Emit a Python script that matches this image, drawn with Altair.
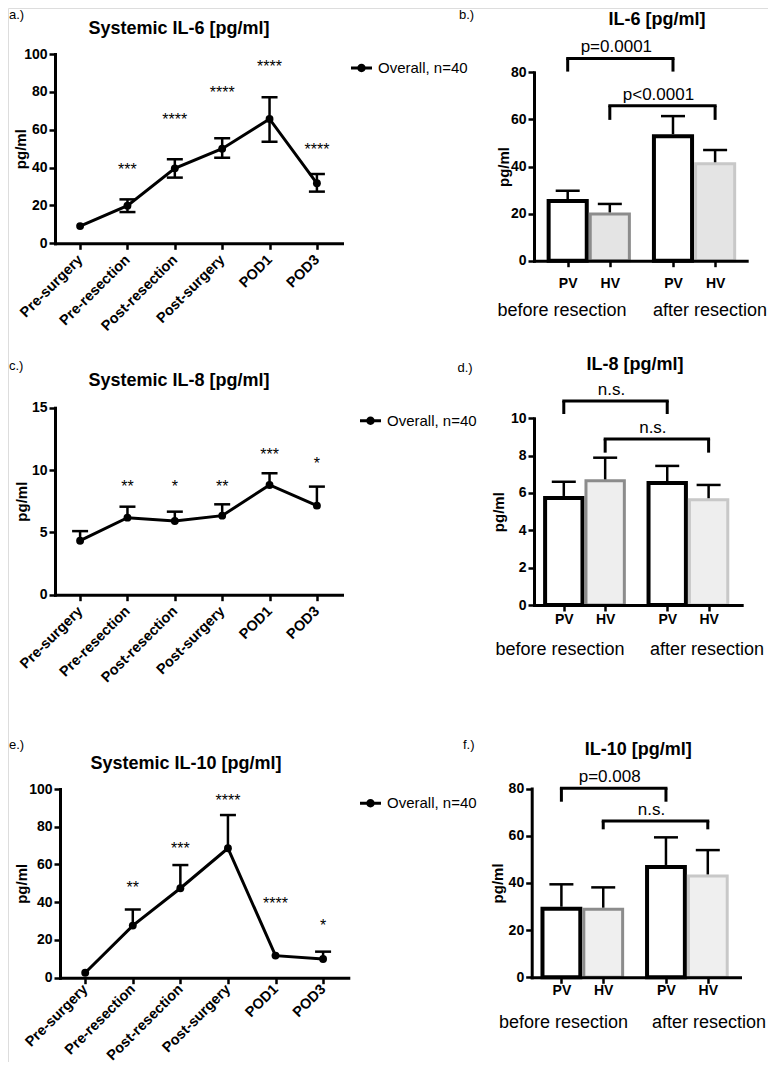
import altair as alt
import pandas as pd

# ---------------------------------------------------------------- data
timepoints = ["Pre-surgery", "Pre-resection", "Post-resection", "Post-surgery", "POD1", "POD3"]
series_name = "Overall, n=40"

il6_mean = [9.1, 19.9, 39.6, 50.0, 65.7, 31.7]
il6_upper = [None, 23.2, 44.4, 55.5, 77.1, 36.6]
il6_lower = [None, 16.5, 34.7, 45.2, 53.7, 27.3]
il6_stars = ["", "***", "****", "****", "****", "****"]
il6_star_level = [None, 41.0, 67.2, 81.4, 95.4, 51.6]

il8_mean = [4.33, 6.18, 5.91, 6.34, 8.80, 7.14]
il8_upper = [5.10, 7.06, 6.66, 7.25, 9.74, 8.67]
il8_lower = [None, None, None, None, None, None]
il8_stars = ["", "**", "*", "**", "***", "*"]
il8_star_level = [None, 9.0, 9.0, 9.0, 11.5, 10.8]

il10_mean = [2.65, 27.6, 47.4, 68.6, 11.7, 9.9]
il10_upper = [None, 36.2, 59.7, 86.2, None, 13.8]
il10_lower = [None, None, None, None, None, None]
il10_stars = ["", "**", "***", "****", "****", "*"]
il10_star_level = [None, 49.7, 70.3, 95.6, 41.2, 29.4]

vessels = ["PV", "HV", "PV", "HV"]
phases = ["before resection", "before resection", "after resection", "after resection"]
il6_bar_mean = [26.2, 20.5, 53.7, 41.8]
il6_bar_upper = [29.7, 24.1, 61.4, 47.0]
il8_bar_mean = [5.84, 6.73, 6.64, 5.72]
il8_bar_upper = [6.60, 7.89, 7.45, 6.43]
il10_bar_mean = [29.9, 29.5, 47.6, 43.6]
il10_bar_upper = [39.4, 38.1, 59.3, 53.9]

# (from bar, to bar, bracket level, foot level, label)
il6_brackets = [(0, 2, 85.9, 80.3, "p=0.0001"), (1, 3, 65.8, 59.8, "p<0.0001")]
il8_brackets = [(0, 2, 10.93, 10.23, "n.s."), (1, 3, 8.89, 8.16, "n.s.")]
il10_brackets = [(0, 2, 80.1, 74.4, "p=0.008"), (1, 3, 66.2, 62.7, "n.s.")]

# ---------------------------------------------------------------- layout / style
M = 8
W, H = 760, 1054
FONT = "Liberation Sans"
BLACK = "#000000"


def px(v):
    return v - M


AX = dict(domainColor=BLACK, domainWidth=3, domainCap="square", tickColor=BLACK, tickWidth=2.5,
          tickSize=6, labelFont=FONT, labelFontWeight="bold", labelColor=BLACK, grid=False,
          zindex=1, titleFont=FONT, titleFontWeight="bold", titleColor=BLACK, titleFontSize=15,
          labelFlush=False, labelOverlap=False)

LEGEND_PATH = ("M-1,-0.14L1,-0.14L1,0.14L-1,0.14Z "
               "M0.4,0A0.4,0.4 0 1 1 -0.4,0A0.4,0.4 0 1 1 0.4,0Z")


def num(lst):
    return pd.to_numeric(pd.Series(lst, dtype="object"), errors="coerce")


def line_panel(mean, upper, lower, stars, star_level, ydomain, yvalues, xr, yr, title_x, legend_c, label_pad):
    xs = alt.Scale(type="point", domain=timepoints, range=[px(xr[0]), px(xr[1])], padding=0.53)
    ys = alt.Scale(domain=ydomain, range=[px(yr[0]), px(yr[1])], nice=False, zero=False)
    xaxis = alt.Axis(orient="bottom", offset=-(H - px(yr[0])), labelAngle=-45, labelAlign="right",
                     labelBaseline="middle", labelFontSize=14.5, labelPadding=label_pad, title=None, **AX)
    yaxis = alt.Axis(orient="left", offset=-px(xr[0]), values=yvalues, labelFontSize=14,
                     labelPadding=2, title="pg/ml", titleX=title_x - xr[0], titleBaseline="middle", **AX)

    df = pd.DataFrame({"timepoint": timepoints, "mean": mean, "series": series_name})
    df["upper"] = num(upper)
    df["lower"] = num(lower)
    df["stars"] = stars
    df["star_level"] = num(star_level)

    def X(axis=None):
        return alt.X("timepoint:N", scale=xs, axis=axis, sort=timepoints)

    def Y(field, axis=None):
        return alt.Y(field + ":Q", scale=ys, axis=axis)

    err = df[df["upper"].notna()].copy()
    err["lo"] = err["lower"].fillna(err["mean"])
    lows = df[df["lower"].notna()]
    st = df[df["stars"] != ""]

    layers = [
        alt.Chart(err).mark_rule(color=BLACK, strokeWidth=2.5).encode(x=X(), y=Y("lo"), y2="upper:Q"),
        alt.Chart(err).mark_tick(orient="horizontal", size=16, thickness=2.5, color=BLACK, opacity=1).encode(x=X(), y=Y("upper")),
    ]
    if len(lows):
        layers.append(alt.Chart(lows).mark_tick(orient="horizontal", size=16, thickness=2.5, color=BLACK, opacity=1)
                      .encode(x=X(), y=Y("lower")))
    layers += [
        alt.Chart(df).mark_line(color=BLACK, strokeWidth=3).encode(x=X(xaxis), y=Y("mean", yaxis)),
        alt.Chart(df).mark_point(filled=True, size=62, opacity=1).encode(
            x=X(), y=Y("mean"),
            color=alt.Color("series:N", scale=alt.Scale(domain=[series_name], range=[BLACK]),
                            legend=alt.Legend(orient="none", legendX=px(legend_c[0] - 10.5),
                                              legendY=px(legend_c[1] - 10.5), title=None,
                                              symbolType=LEGEND_PATH, symbolSize=441,
                                              symbolStrokeWidth=0, symbolFillColor=BLACK,
                                              labelFont=FONT, labelFontSize=15, labelColor=BLACK,
                                              labelOffset=6, padding=0))),
        alt.Chart(st).mark_text(font=FONT, fontSize=16, color=BLACK, baseline="alphabetic", dy=9).encode(
            x=X(), y=Y("star_level"), text="stars:N"),
    ]
    return layers


def bar_panel(mean, upper, brackets, ydomain, yvalues, xdomain, xr, yr, title_x, hv_fill, label_pad):
    pos = [(i // 2) * 2.5 + (i % 2) for i in range(len(vessels))]
    xs = alt.Scale(domain=xdomain, range=[px(xr[0]), px(xr[1])], nice=False, zero=False)
    ys = alt.Scale(domain=ydomain, range=[px(yr[0]), px(yr[1])], nice=False, zero=False)
    label_expr = ""
    for p, v in zip(pos[:-1], vessels[:-1]):
        label_expr += f"datum.value == {p} ? '{v}' : "
    label_expr += f"'{vessels[-1]}'"
    xaxis = alt.Axis(orient="bottom", offset=-(H - px(yr[0])), values=pos, labelExpr=label_expr,
                     labelAngle=0, labelAlign="center", labelBaseline="top", labelFontSize=14,
                     labelPadding=label_pad, title=None, **AX)
    yaxis = alt.Axis(orient="left", offset=-px(xr[0]), values=yvalues, labelFontSize=14,
                     labelPadding=2, title="pg/ml", titleX=title_x - xr[0], titleBaseline="middle", **AX)

    df = pd.DataFrame({"vessel": vessels, "phase": phases, "pos": pos, "mean": mean, "upper": upper})
    df["left"] = df["pos"] - 0.5
    df["right"] = df["pos"] + 0.5
    df["base"] = 0.0

    def Y(field, axis=None):
        return alt.Y(field + ":Q", scale=ys, axis=axis)

    br = pd.DataFrame([{"xl": pos[a], "xr": pos[b], "level": lv, "foot": ft, "label": lb,
                        "mid": (pos[a] + pos[b]) / 2} for a, b, lv, ft, lb in brackets])
    feet = pd.concat([br[["xl", "level", "foot"]].rename(columns={"xl": "x"}),
                      br[["xr", "level", "foot"]].rename(columns={"xr": "x"})])

    pv = df[df["vessel"] == "PV"]
    hv = df[df["vessel"] == "HV"]
    layers = [
        alt.Chart(br).mark_rule(color=BLACK, strokeWidth=3, strokeCap="square").encode(
            x=alt.X("xl:Q", scale=xs, axis=None), x2="xr:Q", y=Y("level")),
        alt.Chart(feet).mark_rule(color=BLACK, strokeWidth=3).encode(
            x=alt.X("x:Q", scale=xs, axis=None), y=Y("level"), y2="foot:Q"),
        alt.Chart(br).mark_text(font=FONT, fontSize=17, color=BLACK, baseline="alphabetic", dy=-6, dx=-4).encode(
            x=alt.X("mid:Q", scale=xs, axis=None), y=Y("level"), text="label:N"),
        alt.Chart(pv).mark_bar(fill="white", stroke=BLACK, strokeWidth=4, xOffset=2, x2Offset=-2, yOffset=2).encode(
            x=alt.X("left:Q", scale=xs, axis=xaxis), x2="right:Q", y=Y("mean", yaxis), y2="base:Q"),
        alt.Chart(hv).mark_bar(fill=hv_fill, strokeWidth=3, xOffset=1.5, x2Offset=-1.5, yOffset=1.5).encode(
            x=alt.X("left:Q", scale=xs, axis=None), x2="right:Q", y=Y("mean"), y2="base:Q",
            stroke=alt.Stroke("phase:N", scale=alt.Scale(domain=["before resection", "after resection"],
                                                         range=["#8c8c8c", "#c8c8c8"]), legend=None)),
        alt.Chart(df).mark_rule(color=BLACK, strokeWidth=2.5).encode(
            x=alt.X("pos:Q", scale=xs, axis=None), y=Y("mean"), y2="upper:Q"),
        alt.Chart(df).mark_tick(orient="horizontal", size=24, thickness=2.5, color=BLACK, opacity=1).encode(
            x=alt.X("pos:Q", scale=xs, axis=None), y=Y("upper")),
    ]
    return layers


def note(text, x, y, size, weight="normal", align="center"):
    return alt.Chart(pd.DataFrame({"text": [text]})).mark_text(
        font=FONT, fontSize=size, fontWeight=weight, align=align, baseline="alphabetic", color=BLACK
    ).encode(x=alt.value(px(x)), y=alt.value(px(y)), text="text:N")


layers = []
layers += line_panel(il6_mean, il6_upper, il6_lower, il6_stars, il6_star_level, [0, 100],
                     [0, 20, 40, 60, 80, 100], (55, 342), (243.3, 54), 20, (361.5, 68), 8)
layers += line_panel(il8_mean, il8_upper, il8_lower, il8_stars, il8_star_level, [0, 15],
                     [0, 5, 10, 15], (55, 342), (594.7, 407.7), 21, (370.5, 420.7), 8)
layers += line_panel(il10_mean, il10_upper, il10_lower, il10_stars, il10_star_level, [0, 100],
                     [0, 20, 40, 60, 80, 100], (60, 348.3), (977.7, 789), 21, (370.5, 803.3), 3)
layers += bar_panel(il6_bar_mean, il6_bar_upper, il6_brackets, [0, 80], [0, 20, 40, 60, 80],
                    [-0.8, 4.25], (534, 746.7), (260.7, 72.3), 503, "#e4e4e4", 10)
layers += bar_panel(il8_bar_mean, il8_bar_upper, il8_brackets, [0, 10], [0, 2, 4, 6, 8, 10],
                    [-0.72, 4.3], (534, 741.7), (605, 418.3), 498, "#eeeeee", 1.5)
layers += bar_panel(il10_bar_mean, il10_bar_upper, il10_brackets, [0, 80], [0, 20, 40, 60, 80],
                    [-0.71, 4.27], (531.7, 740), (977.3, 788.5), 497, "#efefef", 0)

notes = [
    ("a.)", 9, 19, 13, "normal", "left"), ("b.)", 459, 19, 13, "normal", "left"),
    ("c.)", 9, 370, 13, "normal", "left"), ("d.)", 457.5, 372, 13, "normal", "left"),
    ("e.)", 9, 748.5, 13, "normal", "left"), ("f.)", 463, 748.5, 13, "normal", "left"),
    ("Systemic IL-6 [pg/ml]", 179, 34, 18, "bold", "center"),
    ("Systemic IL-8 [pg/ml]", 179, 386.3, 18, "bold", "center"),
    ("Systemic IL-10 [pg/ml]", 186, 769, 18, "bold", "center"),
    ("IL-6 [pg/ml]", 657, 24.5, 18, "bold", "center"),
    ("IL-8 [pg/ml]", 635, 369.7, 18, "bold", "center"),
    ("IL-10 [pg/ml]", 638.3, 754.7, 18, "bold", "center"),
    (phases[0], 562, 316, 18, "normal", "center"), (phases[2], 710, 316, 18, "normal", "center"),
    (phases[0], 560, 655, 18, "normal", "center"), (phases[2], 707, 655, 18, "normal", "center"),
    (phases[0], 563.5, 1028, 18, "normal", "center"), (phases[2], 709, 1028, 18, "normal", "center"),
]
for t, x, y, s, w, a in notes:
    layers.append(note(t, x, y, s, w, a))

chart = (
    alt.layer(*layers)
    .resolve_scale(x="independent", y="independent", color="independent")
    .resolve_axis(x="independent", y="independent")
    .resolve_legend(color="independent")
    .properties(width=W, height=H, padding=0, background="white",
                autosize=alt.AutoSizeParams(type="none"))
    .configure_view(stroke=None)
    .configure(font=FONT)
)

chart.save("out.html", embed_options={"renderer": "svg", "actions": False})
